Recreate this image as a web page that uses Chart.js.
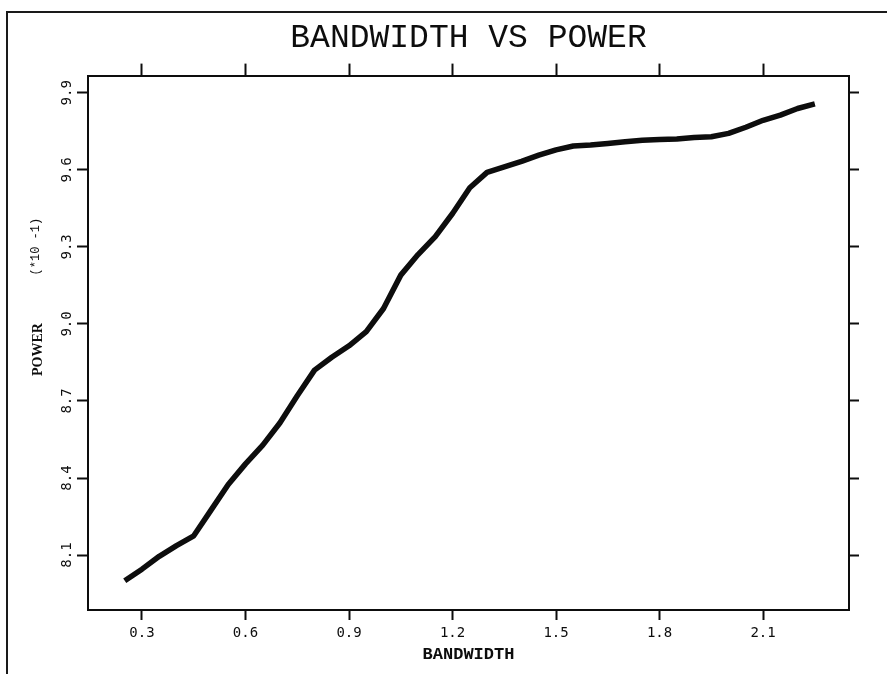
<!DOCTYPE html>
<html lang="en">
<head>
  <meta charset="UTF-8">
  <title>Bandwidth vs Power</title>
  <script src="https://cdn.jsdelivr.net/npm/chart.js"></script>
  <style>
    html, body {
      margin: 0;
      padding: 0;
      background: #fff;
      overflow: hidden;
    }
    #marco {
      position: absolute;
      left: 6px;
      top: 11px;
      width: 900px;
      height: 700px;
      border-left: 2px solid #1a1a1a;
      border-top: 2px solid #1a1a1a;
    }
    #contenedor {
      position: absolute;
      left: 0;
      top: 0;
      width: 887px;
      height: 674px;
    }
  </style>
</head>
<body>
  <div id="marco"></div>
  <div id="contenedor"><canvas id="grafica" width="887" height="674"></canvas></div>

  <script>
    // Valores
    const bandwidth = [0.25, 0.30, 0.35, 0.40, 0.45, 0.50, 0.55, 0.60, 0.65, 0.70,
                       0.75, 0.80, 0.85, 0.90, 0.95, 1.00, 1.05, 1.10, 1.15, 1.20,
                       1.25, 1.30, 1.35, 1.40, 1.45, 1.50, 1.55, 1.60, 1.65, 1.70,
                       1.75, 1.80, 1.85, 1.90, 1.95, 2.00, 2.05, 2.10, 2.15, 2.20, 2.25];
    const power = [8.000, 8.045, 8.095, 8.137, 8.175, 8.275, 8.375, 8.455, 8.528, 8.615,
                   8.720, 8.820, 8.870, 8.915, 8.970, 9.060, 9.190, 9.270, 9.340, 9.430,
                   9.530, 9.590, 9.612, 9.633, 9.657, 9.678, 9.693, 9.697, 9.703, 9.709,
                   9.715, 9.718, 9.720, 9.726, 9.729, 9.742, 9.766, 9.793, 9.813, 9.839, 9.857];
    const xTicks = [0.3, 0.6, 0.9, 1.2, 1.5, 1.8, 2.1];
    const yTicks = [8.1, 8.4, 8.7, 9.0, 9.3, 9.6, 9.9];

    const tinta = '#0d0d0d';
    const fuenteMono = '"DejaVu Sans Mono", monospace';

    // Titulo del eje Y en dos partes con distintas fuentes
    const tituloY = {
      id: 'tituloY',
      afterDraw(chart) {
        const { ctx, chartArea } = chart;
        ctx.save();
        ctx.fillStyle = tinta;
        ctx.textAlign = 'center';
        ctx.textBaseline = 'middle';
        ctx.translate(chartArea.left - 50, chartArea.top + 274);
        ctx.rotate(-Math.PI / 2);
        ctx.font = 'bold 14px "Liberation Serif"';
        ctx.fillText('POWER', 0, 0);
        ctx.restore();

        ctx.save();
        ctx.fillStyle = tinta;
        ctx.textAlign = 'center';
        ctx.textBaseline = 'middle';
        ctx.translate(chartArea.left - 52, chartArea.top + 171);
        ctx.rotate(-Math.PI / 2);
        ctx.font = '12px "Liberation Mono"';
        ctx.fillText('(*10 -1)', 0, 0);
        ctx.restore();
      }
    };

    function ejeX(posicion, largo, alto, mostrar) {
      return {
        type: 'linear',
        position: posicion,
        min: 0.1435,
        max: 2.349,
        afterBuildTicks: s => { s.ticks = xTicks.map(v => ({ value: v })); },
        afterFit: s => { s.height = alto; },
        border: { display: true, color: tinta, width: 2 },
        grid: { drawOnChartArea: false, drawTicks: true, tickLength: largo, tickWidth: 2, tickColor: tinta },
        ticks: {
          display: mostrar,
          color: tinta,
          padding: 5,
          font: { family: fuenteMono, size: 14 },
          callback: v => v.toFixed(1)
        }
      };
    }

    function ejeY(posicion, largo, ancho, mostrar) {
      return {
        type: 'linear',
        position: posicion,
        min: 7.886,
        max: 9.967,
        afterBuildTicks: s => { s.ticks = yTicks.map(v => ({ value: v })); },
        afterFit: s => { s.width = ancho; },
        border: { display: true, color: tinta, width: 2 },
        grid: { drawOnChartArea: false, drawTicks: true, tickLength: largo, tickWidth: 2, tickColor: tinta },
        ticks: {
          display: mostrar,
          color: tinta,
          padding: -3,
          crossAlign: 'center',
          minRotation: 90,
          maxRotation: 90,
          font: { family: fuenteMono, size: 14 },
          callback: v => v.toFixed(1)
        }
      };
    }

    const escalaX = ejeX('bottom', 10, 64, true);
    escalaX.title = {
      display: true,
      text: 'BANDWIDTH',
      color: tinta,
      padding: { top: 0, bottom: 9 },
      font: { family: '"Liberation Mono"', size: 17, weight: 'bold' }
    };

    const ctx = document.getElementById('grafica').getContext('2d');
    const grafica = new Chart(ctx, {
      type: 'line',
      data: {
        datasets: [{
          label: 'Power',
          data: bandwidth.map((b, i) => ({ x: b, y: power[i] })),
          borderColor: tinta,
          borderWidth: 5.5,
          borderCapStyle: 'butt',
          borderJoinStyle: 'round',
          pointRadius: 0,
          tension: 0,
          fill: false
        }]
      },
      options: {
        responsive: false,
        animation: false,
        layout: { padding: 0 },
        scales: {
          x: escalaX,
          x2: ejeX('top', 12, 12, false),
          y: ejeY('left', 11, 88, true),
          y2: ejeY('right', 10, 38, false)
        },
        plugins: {
          legend: { display: false },
          tooltip: { enabled: false },
          title: {
            display: true,
            fullSize: false,
            text: 'BANDWIDTH VS POWER',
            color: tinta,
            padding: { top: 18, bottom: 6 },
            font: { family: '"Liberation Mono"', size: 33, weight: 'normal', lineHeight: 1.2 }
          }
        }
      },
      plugins: [tituloY]
    });
  </script>
</body>
</html>
